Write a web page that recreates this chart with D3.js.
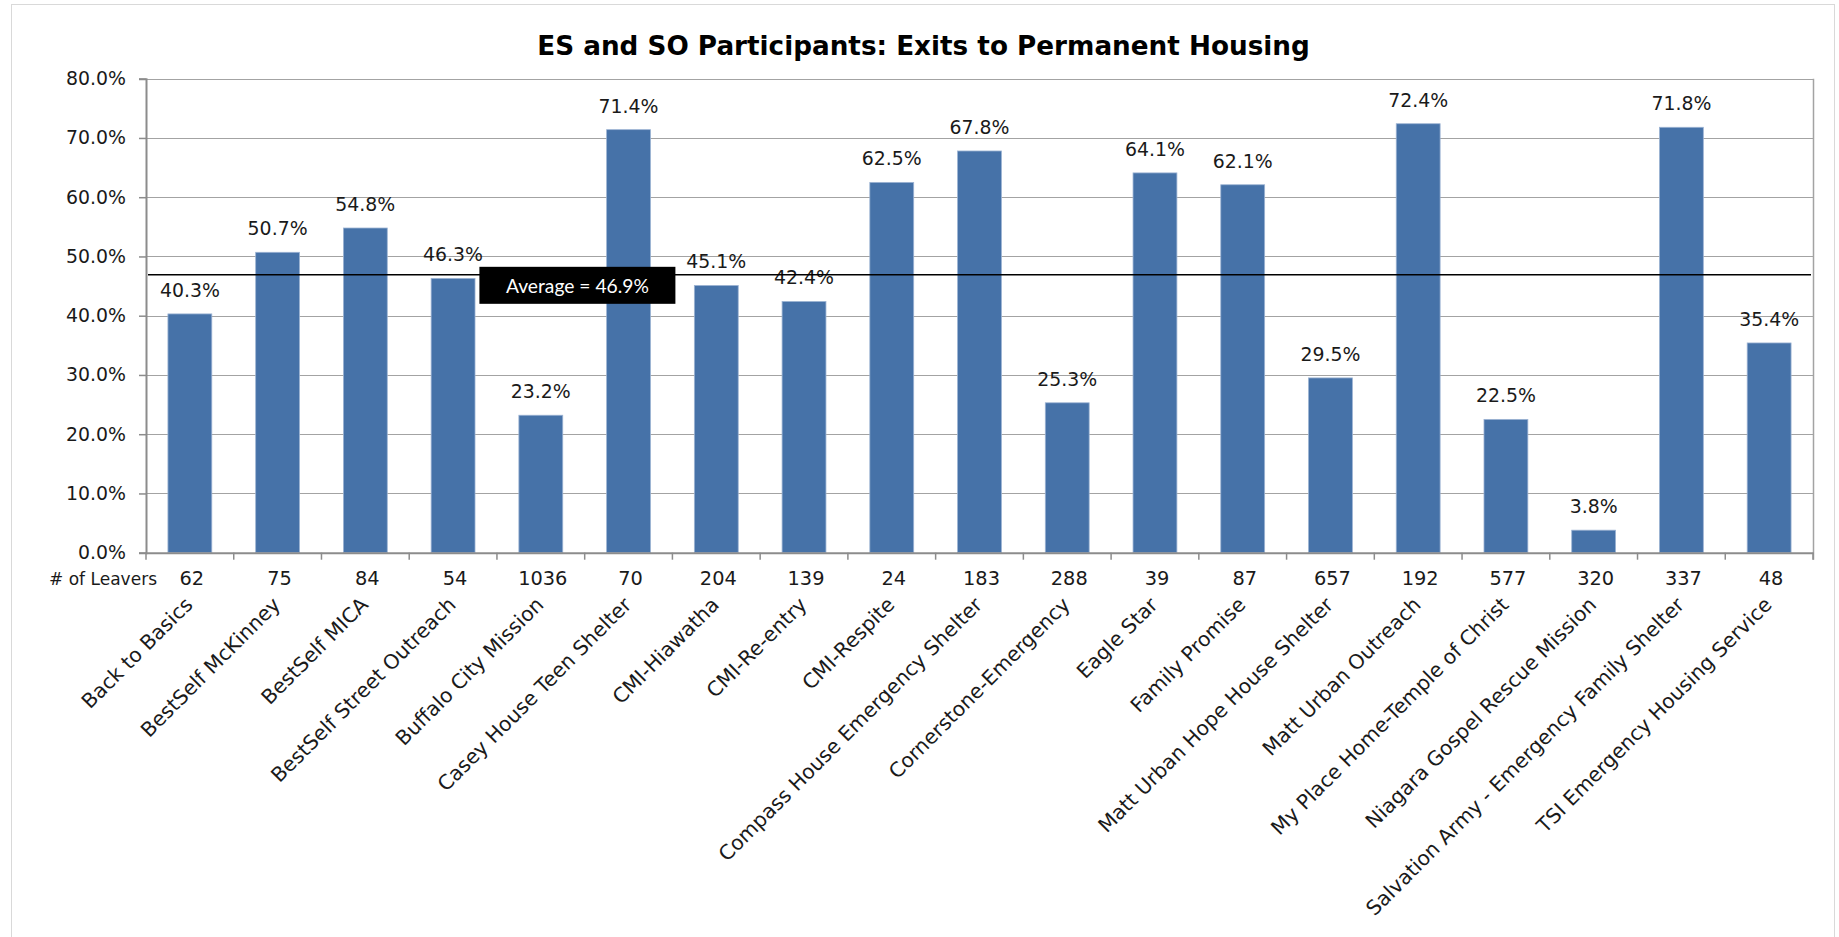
<!DOCTYPE html>
<html>
<head>
<meta charset="utf-8">
<script src="https://cdn.jsdelivr.net/npm/d3@7"></script>
<style>
  html, body { margin: 0; padding: 0; background: #fff; }
  svg { display: block; }
  text { font-family: "DejaVu Sans", sans-serif; fill: #1a1a1a; }
</style>
</head>
<body>
<div id="chart"></div>
<script>
const programs = [
    'Back to Basics', 'BestSelf McKinney', 'BestSelf MICA', 'BestSelf Street Outreach',
    'Buffalo City Mission', 'Casey House Teen Shelter', 'CMI-Hiawatha', 'CMI-Re-entry',
    'CMI-Respite', 'Compass House Emergency Shelter', 'Cornerstone-Emergency', 'Eagle Star',
    'Family Promise', 'Matt Urban Hope House Shelter', 'Matt Urban Outreach',
    'My Place Home-Temple of Christ', 'Niagara Gospel Rescue Mission',
    'Salvation Army - Emergency Family Shelter', 'TSI Emergency Housing Service'
];
const exitRates = [40.3, 50.7, 54.8, 46.3, 23.2, 71.4, 45.1, 42.4, 62.5, 67.8, 25.3, 64.1, 62.1, 29.5, 72.4, 22.5, 3.8, 71.8, 35.4];
const leavers = [62, 75, 84, 54, 1036, 70, 204, 139, 24, 183, 288, 39, 87, 657, 192, 577, 320, 337, 48];
const yTicks = [0, 10, 20, 30, 40, 50, 60, 70, 80];
const average = 46.9;

const width = 1839, height = 937;
const plotLeft = 146, plotRight = 1813, plotTop = 78.7, plotBottom = 552.7;

const svg = d3.select('#chart').append('svg')
    .attr('width', width)
    .attr('height', height);

// the original uses Century Gothic, which isn't installed -> size the substitute
// font so a sample string comes out about as wide as it does in the original
function fitSize(sample, targetWidth, family, weight) {
    const t = svg.append('text')
        .style('font-family', family || '"DejaVu Sans", sans-serif')
        .style('font-weight', weight || 'normal')
        .style('font-size', '100px')
        .text(sample);
    const w = t.node().getComputedTextLength();
    t.remove();
    return (100 * targetWidth / w).toFixed(2) + 'px';
}

const titleSize = fitSize('ES and SO Participants: Exits to Permanent Housing', 773, null, 'bold');
const valueSize = fitSize('40.3%', 60);
const tickSize = fitSize('40.0%', 60);
const leaverSize = fitSize('337', 37);
const rowLabelSize = fitSize('# of Leavers', 108);
const catSize = fitSize('Salvation Army - Emergency Family Shelter', 440);
const avgSize = fitSize('Average = 46.9%', 143, 'Lato, sans-serif');

// outer chart frame
svg.append('rect')
    .attr('x', 11.5).attr('y', 4.5)
    .attr('width', 1823).attr('height', 960)
    .attr('fill', 'none')
    .attr('stroke', '#d9d9d9');

svg.append('text')
    .attr('x', 923.5).attr('y', 55)
    .attr('text-anchor', 'middle')
    .style('font-size', titleSize)
    .style('font-weight', 'bold')
    .style('fill', '#000')
    .text('ES and SO Participants: Exits to Permanent Housing');

const x = d3.scaleBand()
    .domain(programs)
    .range([plotLeft, plotRight])
    .paddingInner(0.5)
    .paddingOuter(0.25);

const y = d3.scaleLinear()
    .domain([0, 80])
    .range([plotBottom, plotTop]);

// gridlines
svg.append('g')
    .selectAll('line')
    .data(yTicks.slice(1))
    .enter().append('line')
    .attr('x1', plotLeft).attr('x2', plotRight)
    .attr('y1', d => Math.round(y(d)) + 0.5)
    .attr('y2', d => Math.round(y(d)) + 0.5)
    .attr('stroke', '#a3a3a3')
    .attr('stroke-width', 1.2);

// right border of plot area
svg.append('line')
    .attr('x1', plotRight + 0.5).attr('x2', plotRight + 0.5)
    .attr('y1', plotTop).attr('y2', plotBottom + 7)
    .attr('stroke', '#a3a3a3')
    .attr('stroke-width', 1.5);

// y axis
const yAxis = d3.axisLeft(y)
    .tickValues(yTicks)
    .tickSize(7)
    .tickPadding(13)
    .tickFormat(d => d.toFixed(1) + '%');

const gy = svg.append('g')
    .attr('transform', `translate(${plotLeft},0)`)
    .call(yAxis);
gy.select('.domain').attr('stroke', '#8c8c8c').attr('stroke-width', 2);
gy.selectAll('.tick line').attr('stroke', '#8c8c8c').attr('stroke-width', 1.5);
gy.selectAll('.tick text')
    .style('font-size', tickSize)
    .style('font-family', '"DejaVu Sans", sans-serif')
    .style('fill', '#1a1a1a');

// bars
svg.append('g')
    .selectAll('rect')
    .data(programs)
    .enter().append('rect')
    .attr('x', d => x(d))
    .attr('width', x.bandwidth())
    .attr('y', (d, i) => y(exitRates[i]))
    .attr('height', (d, i) => y(0) - y(exitRates[i]))
    .attr('fill', '#4672a8')
    .attr('stroke', '#9cb3d3')
    .attr('stroke-width', 0.8);

// x axis line + category boundary ticks
const step = x.step();
const xAxis = d3.axisBottom(x).tickSize(0).tickFormat('');
const gx = svg.append('g')
    .attr('transform', `translate(0,${plotBottom})`)
    .call(xAxis);
gx.select('.domain').attr('stroke', '#8c8c8c').attr('stroke-width', 2);
gx.selectAll('.tick').remove();
gx.selectAll('.bound')
    .data(d3.range(programs.length + 1))
    .enter().append('line')
    .attr('x1', i => plotLeft + i * step)
    .attr('x2', i => plotLeft + i * step)
    .attr('y1', 0).attr('y2', 7)
    .attr('stroke', '#8c8c8c')
    .attr('stroke-width', 1.5);

// value labels
svg.append('g')
    .selectAll('text')
    .data(programs)
    .enter().append('text')
    .attr('x', d => x(d) + x.bandwidth() / 2)
    .attr('y', (d, i) => y(exitRates[i]) - 17)
    .attr('text-anchor', 'middle')
    .style('font-size', valueSize)
    .text((d, i) => exitRates[i].toFixed(1) + '%');

// average line with its label box
const avgY = y(average);
svg.append('line')
    .attr('x1', plotLeft + 2).attr('x2', plotRight - 2)
    .attr('y1', avgY).attr('y2', avgY)
    .attr('stroke', '#000')
    .attr('stroke-width', 1.5);

const boxX = plotLeft + step * 3.8, boxW = 196, boxH = 37;
svg.append('rect')
    .attr('x', boxX).attr('y', avgY - 8)
    .attr('width', boxW).attr('height', boxH)
    .attr('fill', '#000');
svg.append('text')
    .attr('x', boxX + boxW / 2).attr('y', avgY + 18)
    .attr('text-anchor', 'middle')
    .style('font-family', 'Lato, sans-serif')
    .style('font-size', avgSize)
    .style('fill', '#fff')
    .text(`Average = ${average}%`);

// "# of Leavers" row
svg.append('text')
    .attr('x', 157).attr('y', 585)
    .attr('text-anchor', 'end')
    .style('font-size', rowLabelSize)
    .text('# of Leavers');

svg.append('g')
    .selectAll('text')
    .data(programs)
    .enter().append('text')
    .attr('x', d => x(d) + x.bandwidth() / 2 + 2)
    .attr('y', 585)
    .attr('text-anchor', 'middle')
    .style('font-size', leaverSize)
    .text((d, i) => leavers[i]);

// rotated category labels
svg.append('g')
    .selectAll('text')
    .data(programs)
    .enter().append('text')
    .attr('transform', d => `translate(${x(d) + x.bandwidth() / 2 + 4},${606}) rotate(-45)`)
    .attr('text-anchor', 'end')
    .style('font-size', catSize)
    .text(d => d);
</script>
</body>
</html>
